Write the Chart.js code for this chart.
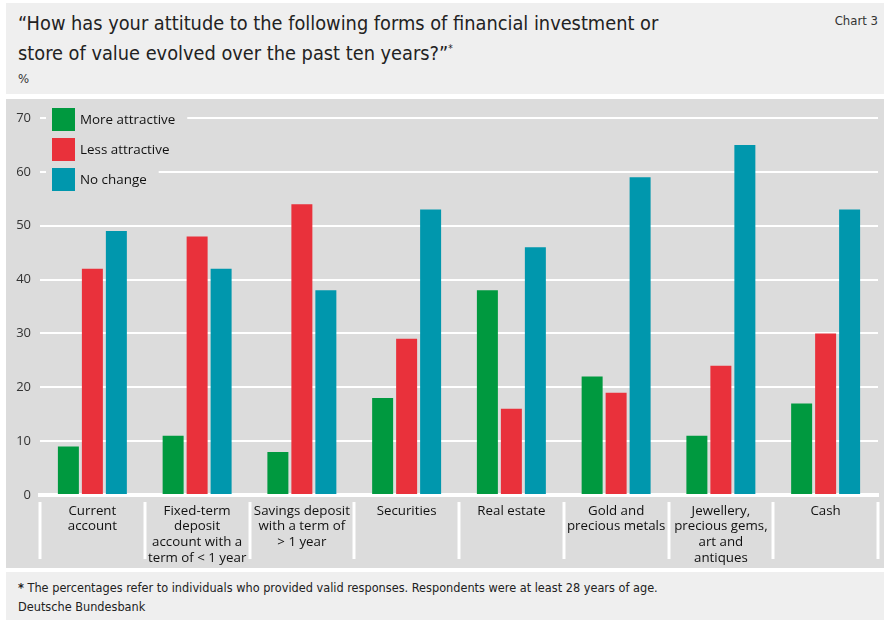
<!DOCTYPE html>
<html>
<head>
<meta charset="utf-8">
<title>Chart 3</title>
<script src="https://cdn.jsdelivr.net/npm/chart.js@4"></script>
<style>
  body { margin: 0; background: #fff; width: 884px; height: 622px; position: relative; overflow: hidden; }
  .head { position: absolute; left: 6px; top: 3px; width: 878px; height: 91px; background: #efefef; }
  .title { position: absolute; left: 12px; top: 8px; font-family: "DejaVu Sans Condensed", sans-serif; font-size: 19.8px; line-height: 25px; color: #222; }
  .title sup { font-size: 10px; }
  .chartno { position: absolute; right: 6px; top: 10px; font-family: "DejaVu Sans Condensed", sans-serif; font-size: 13px; color: #333; }
  .unit { position: absolute; left: 12px; top: 68px; font-family: "DejaVu Sans Condensed", sans-serif; font-size: 13px; color: #333; }
  .panel { position: absolute; left: 6px; top: 99px; width: 878px; height: 469px; background: #dcdcdc; }
  .foot { position: absolute; left: 6px; top: 572px; width: 878px; height: 48px; background: #efefef; font-family: "DejaVu Sans Condensed", sans-serif; font-size: 12.6px; color: #222; }
  .foot div { position: absolute; left: 12px; }
</style>
</head>
<body>
<div class="head">
  <div class="title">“How has your attitude to the following forms of financial investment or<br>store of value evolved over the past ten years?”<sup>*</sup></div>
  <div class="chartno">Chart 3</div>
  <div class="unit">%</div>
</div>
<div class="panel"><canvas id="grafico" width="878" height="469"></canvas></div>
<div class="foot">
  <div style="top:8px"><b>*</b> The percentages refer to individuals who provided valid responses. Respondents were at least 28 years of age.</div>
  <div style="top:27px">Deutsche Bundesbank</div>
</div>
<script>
// categorias e valores (%)
let categorias = [
  ["Current", "account"],
  ["Fixed-term", "deposit", "account with a", "term of < 1 year"],
  ["Savings deposit", "with a term of", "> 1 year"],
  ["Securities"],
  ["Real estate"],
  ["Gold and", "precious metals"],
  ["Jewellery,", "precious gems,", "art and", "antiques"],
  ["Cash"]
]
let maisAtrativo = [9, 11, 8, 18, 38, 22, 11, 17]
let menosAtrativo = [42, 48, 54, 29, 16, 19, 24, 30]
let semMudanca = [49, 42, 38, 53, 46, 59, 65, 53]
let yTicks = [0, 10, 20, 30, 40, 50, 60, 70]

const fonte = "'Open Sans', 'Noto Sans', sans-serif"
const fundo = "#dcdcdc"

// linhas brancas separando as categorias, abaixo do eixo
const separadores = {
  id: "separadores",
  afterDraw(chart) {
    let ctx = chart.ctx
    let x = chart.scales.x
    let n = categorias.length
    let passo = (x.right - x.left) / n
    ctx.save()
    ctx.strokeStyle = "#fff"
    ctx.lineWidth = 3
    for (let i = 0; i <= n; i++) {
      let px = Math.round(x.left + i * passo)
      ctx.beginPath()
      ctx.moveTo(px, chart.chartArea.bottom + 7)
      ctx.lineTo(px, chart.chartArea.bottom + 64)
      ctx.stroke()
    }
    ctx.restore()
  }
}

// legenda dentro da area do grafico, com fundo cobrindo as linhas de grade
const legenda = {
  id: "legenda",
  afterDatasetsDraw(chart) {
    let ctx = chart.ctx
    let left = chart.chartArea.left
    ctx.save()
    ctx.font = "13.4px " + fonte
    ctx.textBaseline = "middle"
    chart.data.datasets.forEach(function(ds, i) {
      let y = 9 + i * 30
      let w = ctx.measureText(ds.label).width
      ctx.fillStyle = fundo
      ctx.fillRect(left + 6, y - 3, 40 + w + 6, 29)
      ctx.fillStyle = ds.backgroundColor
      ctx.fillRect(left + 12, y, 23, 23)
      ctx.fillStyle = "#111"
      ctx.fillText(ds.label, left + 40, y + 12)
    })
    ctx.restore()
  }
}

new Chart(document.getElementById("grafico"), {
  type: "bar",
  data: {
    labels: categorias,
    datasets: [
      { label: "More attractive", data: maisAtrativo, backgroundColor: "#00993f" },
      { label: "Less attractive", data: menosAtrativo, backgroundColor: "#e9313b" },
      { label: "No change", data: semMudanca, backgroundColor: "#0097ad" }
    ]
  },
  options: {
    responsive: false,
    animation: false,
    categoryPercentage: 0.687,
    barPercentage: 0.875,
    layout: { padding: { top: 19, right: 6, left: 0, bottom: 0 } },
    plugins: { legend: { display: false }, tooltip: { enabled: false } },
    scales: {
      x: {
        grid: { display: false },
        border: { color: "#fff", width: 4 },
        ticks: {
          color: "#111", padding: 0, maxRotation: 0, autoSkip: false,
          font: { family: fonte, size: 13.3, lineHeight: 1.18 }
        },
        afterFit(scale) { scale.height = 73 }
      },
      y: {
        min: 0, max: 70,
        afterBuildTicks(scale) { scale.ticks = yTicks.map(v => ({ value: v })) },
        grid: { color: "#fff", lineWidth: 2, drawTicks: false },
        border: { display: false },
        ticks: { color: "#333", padding: 9, font: { family: fonte, size: 13 } },
        afterFit(scale) { scale.width = 34 }
      }
    }
  },
  plugins: [separadores, legenda]
})
</script>
</body>
</html>
